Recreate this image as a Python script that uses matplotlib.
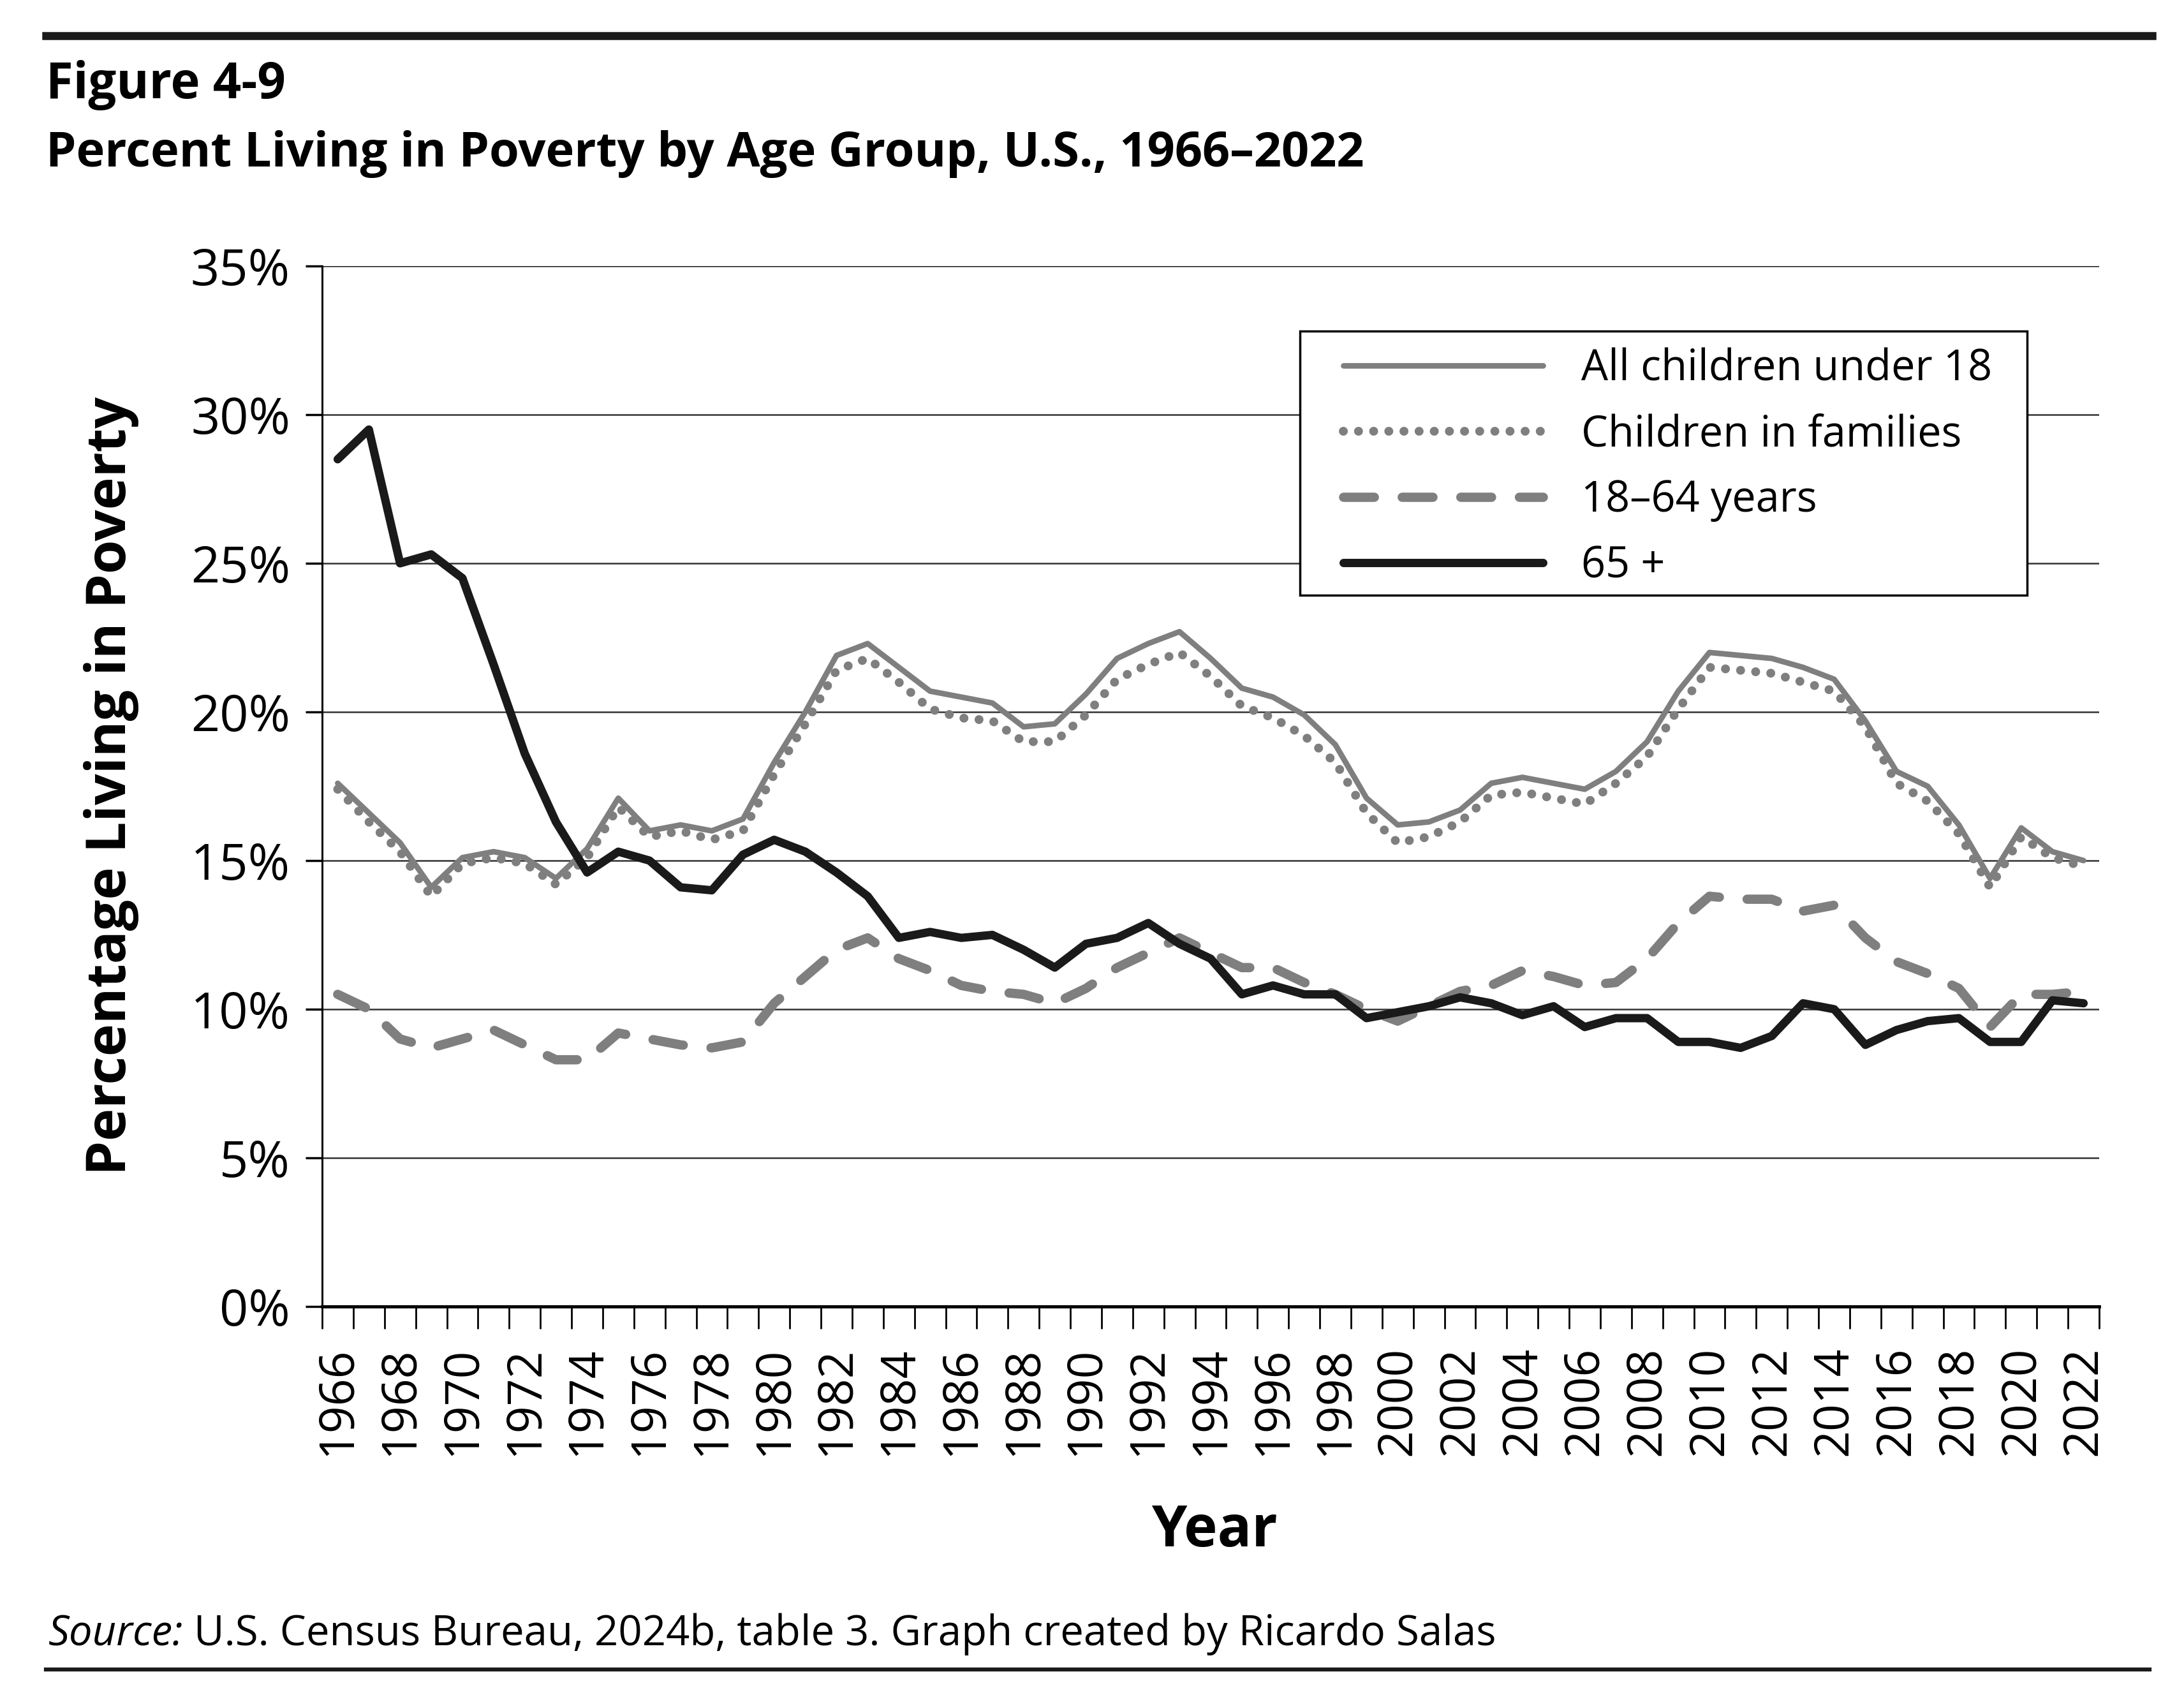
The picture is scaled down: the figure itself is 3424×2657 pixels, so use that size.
import numpy as np
import matplotlib
matplotlib.use("Agg")
import matplotlib.pyplot as plt
from matplotlib.lines import Line2D
from matplotlib.patches import Rectangle

plt.rcParams['font.family'] = ['Open Sans', 'DejaVu Sans']

years = list(range(1966, 2023))

all_children = [17.6, 16.6, 15.6, 14.1, 15.1, 15.3, 15.1, 14.4, 15.4, 17.1,
                16.0, 16.2, 16.0, 16.4, 18.3, 20.0, 21.9, 22.3, 21.5, 20.7,
                20.5, 20.3, 19.5, 19.6, 20.6, 21.8, 22.3, 22.7, 21.8, 20.8,
                20.5, 19.9, 18.9, 17.1, 16.2, 16.3, 16.7, 17.6, 17.8, 17.6,
                17.4, 18.0, 19.0, 20.7, 22.0, 21.9, 21.8, 21.5, 21.1, 19.7,
                18.0, 17.5, 16.2, 14.4, 16.1, 15.3, 15.0]

children_families = [17.4, 16.3, 15.3, 13.8, 14.9, 15.1, 14.9, 14.2, 15.1, 16.8,
                     15.8, 16.0, 15.7, 16.0, 17.9, 19.6, 21.4, 21.8, 21.0, 20.1,
                     19.8, 19.7, 19.0, 19.0, 19.9, 21.1, 21.6, 22.0, 21.2, 20.2,
                     19.8, 19.2, 18.3, 16.6, 15.6, 15.8, 16.3, 17.2, 17.3, 17.1,
                     16.9, 17.6, 18.5, 20.1, 21.5, 21.4, 21.3, 21.0, 20.7, 19.5,
                     17.6, 17.0, 15.9, 14.1, 15.8, 15.1, 14.8]

adults_18_64 = [10.5, 10.0, 9.0, 8.7, 9.0, 9.3, 8.8, 8.3, 8.3, 9.2,
                9.0, 8.8, 8.7, 8.9, 10.2, 11.1, 12.0, 12.4, 11.7, 11.3,
                10.8, 10.6, 10.5, 10.2, 10.7, 11.4, 11.9, 12.4, 11.9, 11.4,
                11.4, 10.9, 10.5, 10.0, 9.6, 10.1, 10.6, 10.8, 11.3, 11.1,
                10.8, 10.9, 11.7, 12.9, 13.8, 13.7, 13.7, 13.3, 13.5, 12.4,
                11.6, 11.2, 10.7, 9.4, 10.5, 10.5, 10.6]

seniors_65 = [28.5, 29.5, 25.0, 25.3, 24.5, 21.6, 18.6, 16.3, 14.6, 15.3,
              15.0, 14.1, 14.0, 15.2, 15.7, 15.3, 14.6, 13.8, 12.4, 12.6,
              12.4, 12.5, 12.0, 11.4, 12.2, 12.4, 12.9, 12.2, 11.7, 10.5,
              10.8, 10.5, 10.5, 9.7, 9.9, 10.1, 10.4, 10.2, 9.8, 10.1,
              9.4, 9.7, 9.7, 8.9, 8.9, 8.7, 9.1, 10.2, 10.0, 8.8,
              9.3, 9.6, 9.7, 8.9, 8.9, 10.3, 10.2]

labels = ["All children under 18", "Children in families", "18\u201364 years", "65 +"]

W, H = 3424, 2657
GRAY = '#7f7f7f'
BLACK = '#1a1a1a'

fig = plt.figure(figsize=(W / 100, H / 100), dpi=100)
ax = fig.add_axes([505 / W, 1 - 2048 / H, (3291 - 505) / W, (2048 - 417) / H])

solid_style = dict(color=GRAY, lw=6.3, solid_capstyle='round')
dot_style = dict(color=GRAY, lw=10, linestyle=(0, (0.01, 1.7)), dash_capstyle='round')
dash_style = dict(color=GRAY, lw=10.5, linestyle=(0, (3.3, 3.0)), dash_capstyle='round')
black_style = dict(color=BLACK, lw=9.4, solid_capstyle='round')

ax.plot(years, all_children, **solid_style)
ax.plot(years, children_families, **dot_style)
ax.plot(years, adults_18_64, **dash_style)
ax.plot(years, seniors_65, **black_style)

ax.set_xlim(1965.5, 2022.5)
ax.set_ylim(0, 35)
ax.set_yticks(range(0, 36, 5))
ax.set_yticklabels([f"{v}%" for v in range(0, 36, 5)])
ax.set_xticks(range(1966, 2023, 2))
ax.set_xticks(np.arange(1965.5, 2023, 1), minor=True)
ax.tick_params(axis='x', which='major', length=0, pad=45, labelsize=54, labelrotation=90)
ax.tick_params(axis='x', which='minor', length=25, width=2, direction='out', color='black')
ax.tick_params(axis='y', length=19, width=2.5, pad=17, labelsize=57, color='black')

ax.grid(axis='y', color='#333333', lw=1.8)
ax.set_axisbelow(True)
for s in ['top', 'right']:
    ax.spines[s].set_visible(False)
ax.spines['left'].set_linewidth(2.2)
ax.spines['bottom'].set_linewidth(3.6)

# legend box
box = Rectangle((2038 / W, 1 - 933 / H), (3178 - 2038) / W, (933 - 519) / H,
                transform=fig.transFigure, facecolor='white', edgecolor='black',
                lw=2.5, zorder=10, clip_on=False)
ax.add_patch(box)
handles = [Line2D([], [], **solid_style), Line2D([], [], **dot_style),
           Line2D([], [], **dash_style), Line2D([], [], **black_style)]
leg = ax.legend(handles, labels, loc='upper left', bbox_to_anchor=(2106 / W, 1 - 545 / H),
                bbox_transform=fig.transFigure, fontsize=48, frameon=False,
                borderaxespad=0, borderpad=0, handlelength=4.7, handletextpad=0.9,
                labelspacing=0.53)
leg.set_zorder(11)

# header, labels and footer
fig.add_artist(Line2D([72 / W, 3374 / W], [1 - 56 / H, 1 - 56 / H], color=BLACK, lw=9))
fig.text(72 / W, 1 - 154 / H, "Figure 4-9", fontsize=56, fontweight='bold', va='baseline')
fig.text(72 / W, 1 - 261 / H, "Percent Living in Poverty by Age Group, U.S., 1966\u20132022",
         fontsize=54.5, fontweight='bold', va='baseline')
fig.text(175 / W, 1 - 1232 / H, "Percentage Living in Poverty", fontsize=62,
         fontweight='bold', rotation=90, ha='center', va='center')
fig.text(1904 / W, 1 - 2424 / H, "Year", fontsize=64, fontweight='bold',
         ha='center', va='baseline')
src = fig.text(76 / W, 1 - 2579 / H, "Source:", fontsize=47, style='italic', va='baseline')
ax.annotate("U.S. Census Bureau, 2024b, table 3. Graph created by Ricardo Salas",
            xy=(1, 0), xycoords=src, xytext=(12, 0), textcoords='offset points',
            fontsize=47, va='bottom', ha='left', annotation_clip=False)
fig.add_artist(Line2D([72 / W, 3370 / W], [1 - 2617 / H, 1 - 2617 / H], color=BLACK, lw=4.5))

fig.savefig("out.png", dpi=100)
